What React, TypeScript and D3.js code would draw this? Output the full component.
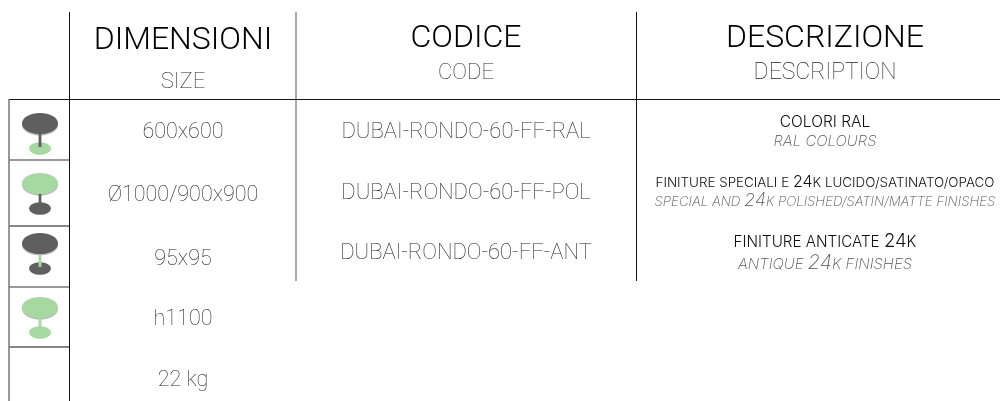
import React from 'react';
import * as d3 from 'd3';

const sizes = ['600x600', 'Ø1000/900x900', '95x95', 'h1100', '22 kg'];
const codes = ['DUBAI-RONDO-60-FF-RAL', 'DUBAI-RONDO-60-FF-POL', 'DUBAI-RONDO-60-FF-ANT'];
const headers = ['DIMENSIONI', 'CODICE', 'DESCRIZIONE'];
const subHeaders = ['SIZE', 'CODE', 'DESCRIPTION'];
const descIt = ['COLORI RAL', 'FINITURE SPECIALI E 24K LUCIDO/SATINATO/OPACO', 'FINITURE ANTICATE 24K'];
const descEn = ['RAL COLOURS', 'SPECIAL AND 24K POLISHED/SATIN/MATTE FINISHES', 'ANTIQUE 24K FINISHES'];
const iconTop = ['dark', 'green', 'dark', 'green'];
const iconStem = ['dark', 'dark', 'green', 'green'];
const iconBase = ['green', 'dark', 'dark', 'green'];

const W = 1000;
const H = 401;
const colour = d3.scaleOrdinal<string, string>().domain(['dark', 'green']).range(['#5f5f5f', '#a6d8a2']);
const column = d3.scaleOrdinal<number, number>().domain([0, 1, 2]).range([183, 466, 825]);
const headerY = d3.scaleOrdinal<number, number>().domain([0, 1, 2]).range([49, 47, 47]);
const subY = d3.scaleOrdinal<number, number>().domain([0, 1, 2]).range([87.5, 79, 79]);
const subSize = [22, 22, 23];
const rowY = d3.scaleOrdinal<number, number>().domain(d3.range(5)).range([138, 201, 265, 325, 386]);
const codeY = d3.scaleOrdinal<number, number>().domain(d3.range(3)).range([138, 199, 259]);
const iconY = d3.scaleOrdinal<number, number>().domain(d3.range(4)).range([113, 173, 233, 297]);
const descY = d3.scaleOrdinal<number, number>().domain(d3.range(3)).range([127, 187, 247]);
const enY = d3.scaleOrdinal<number, number>().domain(d3.range(3)).range([146, 206, 269]);
const capSize = [15.5, 13.4, 15.2];
const digitSize = [15.5, 16, 18.5];
const capSizeEn = [15, 13.3, 15];
const digitSizeEn = [15, 18, 20];

const rowLines = [99, 160, 226, 287, 347];

const Icon = ({ i }: { i: number }) => {
  const y = iconY(i);
  return (
    <g>
      <ellipse cx={40} cy={y + 12} rx={18} ry={10.5} fill="#bbb" />
      <ellipse cx={40} cy={y + 35.5} rx={11} ry={6.3} fill={colour(iconBase[i])} />
      <rect x={38.6} y={y + 20} width={2.8} height={14} fill={colour(iconStem[i])} />
      <ellipse cx={40} cy={y + 10.5} rx={18} ry={10.5} fill={colour(iconTop[i])} />
    </g>
  );
};

// digits are set bigger than the caps in the description column
const Mixed = ({ text, caps, digits }: { text: string; caps: number; digits: number }) => (
  <>
    {text.split(/(\d+)/).map((part, i) => (
      <tspan key={i} fontSize={/\d/.test(part) ? digits : caps}>{part}</tspan>
    ))}
  </>
);

export default function App() {
  return (
    <svg
      width={W}
      height={H}
      style={{ position: 'absolute', left: 0, top: 0, fontFamily: 'Roboto, sans-serif' }}
    >
      <rect width={W} height={H} fill="#fff" />
      {iconTop.map((_, i) => <Icon key={i} i={i} />)}

      <line x1={9} x2={W} y1={99.5} y2={99.5} stroke="#111" strokeWidth={1} />
      {rowLines.slice(1).map((y, i) => (
        <line key={y} x1={9} x2={69} y1={y} y2={y} stroke={i % 2 === 0 ? '#777' : '#111'} strokeWidth={i % 2 === 0 ? 1.5 : 1} />
      ))}
      <line x1={9} x2={9} y1={99} y2={H} stroke="#777" strokeWidth={1.5} />
      <line x1={69.5} x2={69.5} y1={12} y2={H} stroke="#111" />
      <line x1={296} x2={296} y1={12} y2={281} stroke="#555" strokeWidth={1} />
      <line x1={636.5} x2={636.5} y1={12} y2={281} stroke="#111" />

      {/* the thin text picks up colour fringes otherwise */}
      <g style={{ filter: 'grayscale(1)' }}>
        {headers.map((h, i) => (
          <text key={h} x={column(i)} y={headerY(i)} textAnchor="middle" fontSize={32} fontWeight={350} fill="#000">{h}</text>
        ))}
        {subHeaders.map((h, i) => (
          <text key={h} x={column(i)} y={subY(i)} textAnchor="middle" fontSize={subSize[i]} fontWeight={100} fill="#222">{h}</text>
        ))}
        {sizes.map((s, i) => (
          <text key={s} x={column(0)} y={rowY(i)} textAnchor="middle" fontSize={21.5} fontWeight={100} fill="#222">{s}</text>
        ))}
        {codes.map((c, i) => (
          <text key={c} x={column(1)} y={codeY(i)} textAnchor="middle" fontSize={22} fontWeight={100} fill="#222">{c}</text>
        ))}
        {descIt.map((d, i) => (
          <text key={d} x={825} y={descY(i)} textAnchor="middle" fontFamily="Inter" fontWeight={300} fill="#111">
            <Mixed text={d} caps={capSize[i]} digits={digitSize[i]} />
          </text>
        ))}
        {descEn.map((d, i) => (
          <text key={d} x={825} y={enY(i)} textAnchor="middle" fontFamily="Inter" fontWeight={200} fontStyle="italic" fill="#555">
            <Mixed text={d} caps={capSizeEn[i]} digits={digitSizeEn[i]} />
          </text>
        ))}
      </g>
    </svg>
  );
}
